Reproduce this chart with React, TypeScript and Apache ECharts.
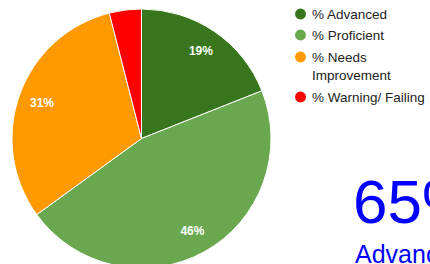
import React, { useEffect, useRef } from "react";
import * as echarts from "echarts";

const categories = ["% Advanced", "% Proficient", "% Needs Improvement", "% Warning/ Failing"];
const values = [19, 46, 31, 4];
const colors = ["#38761d", "#6aa84f", "#ff9900", "#ff0000"];
const bigValue = "65%";
const bigLabel = "Advanced";

const FONT = "Liberation Sans, Arial, sans-serif";

export default function App() {
  const ref = useRef<HTMLDivElement>(null);
  useEffect(() => {
    document.body.style.margin = "0";
    const chart = echarts.init(ref.current!, null, { renderer: "svg" });
    const data = categories.map((name, i) => ({ name, value: values[i], itemStyle: { color: colors[i] } }));
    const legendBase = {
      orient: "vertical",
      left: 293,
      padding: 0,
      icon: "circle",
      itemWidth: 13,
      itemHeight: 13,
      textStyle: { fontSize: 13.5, lineHeight: 18, color: "#222", fontFamily: FONT },
      formatter: (n: string) => (n === "% Needs Improvement" ? "\n% Needs\nImprovement" : n),
    };
    chart.setOption({
      animation: false,
      textStyle: { fontFamily: FONT },
      legend: [
        { ...legendBase, top: 5, itemGap: 3, data: [categories[0], categories[1]] },
        { ...legendBase, top: 30, itemGap: 4, data: [categories[2], categories[3]] },
      ],
      series: [
        {
          type: "pie",
          center: [141.5, 138.5],
          radius: 129.5,
          startAngle: 90,
          clockwise: true,
          label: { show: false },
          labelLine: { show: false },
          itemStyle: { borderColor: "#fff", borderWidth: 1 },
          emphasis: { disabled: true },
          data,
        },
        {
          type: "pie",
          center: [141.5, 138.5],
          radius: [76, 129.5],
          startAngle: 90,
          clockwise: true,
          silent: true,
          itemStyle: { color: "rgba(0,0,0,0)" },
          label: {
            show: true,
            position: "inside",
            formatter: (p: any) => (p.value >= 10 ? p.value + "%" : ""),
            color: "#fff",
            fontSize: 12,
            fontWeight: "bold",
            fontFamily: FONT,
          },
          labelLine: { show: false },
          emphasis: { disabled: true },
          data: categories.map((name, i) => ({ name, value: values[i] })),
        },
      ],
      graphic: [
        {
          type: "text",
          left: 353,
          top: 170,
          style: { text: bigValue, fill: "#0000ff", fontSize: 62, fontFamily: FONT },
        },
        {
          type: "text",
          left: 355,
          top: 241,
          style: { text: bigLabel, fill: "#0000ff", fontSize: 25, fontFamily: FONT },
        },
      ],
    });
    return () => chart.dispose();
  }, []);
  return <div ref={ref} style={{ width: 430, height: 264 }} />;
}
